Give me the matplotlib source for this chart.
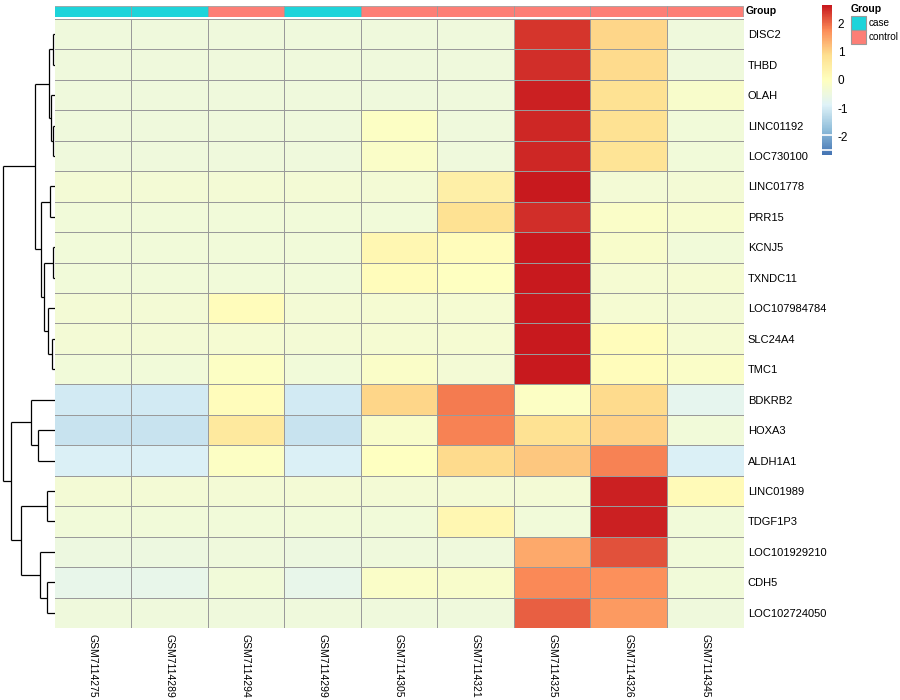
import numpy as np
import matplotlib
matplotlib.use("Agg")
import matplotlib.pyplot as plt
from matplotlib.colors import LinearSegmentedColormap, Normalize
from matplotlib.patches import Rectangle

plt.rcParams['font.family'] = ['Liberation Sans', 'DejaVu Sans']

genes = ["DISC2", "THBD", "OLAH", "LINC01192", "LOC730100", "LINC01778", "PRR15",
         "KCNJ5", "TXNDC11", "LOC107984784", "SLC24A4", "TMC1", "BDKRB2", "HOXA3",
         "ALDH1A1", "LINC01989", "TDGF1P3", "LOC101929210", "CDH5", "LOC102724050"]
samples = ["GSM7114275", "GSM7114289", "GSM7114294", "GSM7114299", "GSM7114305",
           "GSM7114321", "GSM7114325", "GSM7114326", "GSM7114345"]
groups = ["case", "case", "control", "case", "control", "control", "control", "control", "control"]
group_colors = {"case": "#1ED4DA", "control": "#FD7E76"}

values = [
    [-0.45, -0.45, -0.45, -0.45, -0.45, -0.45, 2.45, 1.00, -0.45],   # DISC2
    [-0.45, -0.45, -0.45, -0.45, -0.45, -0.45, 2.50, 0.95, -0.45],   # THBD
    [-0.45, -0.45, -0.45, -0.45, -0.45, -0.45, 2.60, 0.85, -0.20],   # OLAH
    [-0.45, -0.45, -0.45, -0.45, -0.10, -0.45, 2.55, 0.80, -0.40],   # LINC01192
    [-0.45, -0.45, -0.45, -0.45, -0.12, -0.45, 2.55, 0.75, -0.40],   # LOC730100
    [-0.35, -0.35, -0.35, -0.35, -0.35, 0.45, 2.67, -0.35, -0.35],   # LINC01778
    [-0.40, -0.40, -0.40, -0.40, -0.40, 0.80, 2.50, -0.12, -0.25],   # PRR15
    [-0.40, -0.40, -0.40, -0.40, 0.25, 0.10, 2.67, -0.20, -0.40],    # KCNJ5
    [-0.38, -0.38, -0.38, -0.38, 0.10, -0.05, 2.67, -0.30, -0.30],   # TXNDC11
    [-0.35, -0.35, 0.10, -0.35, -0.30, -0.30, 2.67, -0.30, -0.35],   # LOC107984784
    [-0.35, -0.35, -0.32, -0.35, -0.30, -0.32, 2.67, 0.10, -0.32],   # SLC24A4
    [-0.38, -0.38, -0.10, -0.38, -0.15, -0.35, 2.67, 0.10, -0.15],   # TMC1
    [-1.05, -1.05, 0.10, -1.05, 1.00, 1.90, -0.10, 0.95, -0.70],     # BDKRB2
    [-1.15, -1.15, 0.60, -1.15, -0.20, 1.85, 0.80, 1.05, -0.40],     # HOXA3
    [-0.95, -0.95, -0.10, -0.95, -0.05, 0.95, 1.15, 1.85, -0.95],    # ALDH1A1
    [-0.35, -0.35, -0.35, -0.35, -0.35, -0.35, -0.35, 2.60, 0.15],   # LINC01989
    [-0.38, -0.38, -0.38, -0.38, -0.38, 0.25, -0.38, 2.60, -0.38],   # TDGF1P3
    [-0.50, -0.50, -0.45, -0.50, -0.45, -0.45, 1.45, 2.20, -0.40],   # LOC101929210
    [-0.65, -0.65, -0.40, -0.65, -0.15, -0.20, 1.80, 1.75, -0.40],   # CDH5
    [-0.48, -0.48, -0.45, -0.48, -0.45, -0.45, 2.10, 1.60, -0.45],   # LOC102724050
]

# row dendrogram: (left, right, merge height); leaves are row indices
row_tree = (
    (((0, 1, 1.3), (2, (3, 4, 1.3), 3.3), 5.7),
     ((5, 6, 4.0), ((7, 8, 1.3), (9, (10, 11, 2.3), 6.3), 10.0), 13.3),
     19.0),
    ((12, (13, 14, 16.7), 23.3),
     ((15, 16, 7.3), (17, (18, 19, 7.3), 14.0), 33.3),
     43.0),
    51.3)

palette = ["#4575B4", "#91BFDB", "#E0F3F8", "#FFFFBF", "#FEE090", "#FC8D59", "#C8191E"]
cmap = LinearSegmentedColormap.from_list("pal", palette, N=100)
data = np.array(values)
vmax = 8 / 3
norm = Normalize(-vmax, vmax)

W, H = 900, 700
fig = plt.figure(figsize=(9, 7), dpi=100)

def fax(x0, y0, x1, y1):
    return fig.add_axes([x0 / W, 1 - y1 / H, (x1 - x0) / W, (y1 - y0) / H])

hm_x0, hm_x1, hm_y0, hm_y1 = 54.5, 743.5, 19, 628
nr, nc = data.shape

# heatmap
ax = fax(hm_x0, hm_y0, hm_x1, hm_y1)
ax.pcolormesh(np.arange(nc + 1) - 0.5, np.arange(nr + 1) - 0.5, data, cmap=cmap, norm=norm,
              edgecolors="#9A9A9A", linewidth=0.55)
ax.set_xlim(-0.5, nc - 0.5)
ax.set_ylim(nr - 0.5, -0.5)
for s in ax.spines.values():
    s.set_visible(False)
ax.yaxis.tick_right()
ax.set_yticks(range(nr))
ax.set_yticklabels(genes, fontsize=8)
ax.set_xticks(range(nc))
ax.set_xticklabels(samples, fontsize=7.5, rotation=270, va="top", ha="center")
ax.tick_params(length=0, pad=3)
ax.tick_params(axis="x", pad=4)

# annotation bar
aax = fax(hm_x0, 6, hm_x1, 16.5)
for j, g in enumerate(groups):
    aax.add_patch(Rectangle((j - 0.5, 0), 1, 1, facecolor=group_colors[g],
                            edgecolor="#9A9A9A", linewidth=0.55))
aax.set_xlim(-0.5, nc - 0.5)
aax.set_ylim(0, 1)
aax.axis("off")
fig.text(746 / W, 1 - 11.5 / H, "Group", fontsize=7.5, fontweight="bold", va="center", ha="left")

# dendrogram
dax = fax(0, hm_y0, 54.5, hm_y1)

def draw(node):
    if isinstance(node, int):
        return node, 0.0
    l, r, h = node
    yl, hl = draw(l)
    yr, hr = draw(r)
    dax.plot([hl, h], [yl, yl], color="black", lw=0.9, solid_capstyle="butt")
    dax.plot([hr, h], [yr, yr], color="black", lw=0.9, solid_capstyle="butt")
    dax.plot([h, h], [yl, yr], color="black", lw=0.9, solid_capstyle="butt")
    return (yl + yr) / 2, h

draw(row_tree)
dax.set_xlim(54, 0)
dax.set_ylim(nr - 0.5, -0.5)
dax.axis("off")

# colour legend
cax = fax(822, 5, 832, 155)
grad = np.linspace(-vmax, vmax, 200).reshape(-1, 1)
cax.imshow(grad, aspect="auto", cmap=cmap, norm=norm, origin="lower",
           extent=[0, 1, -vmax, vmax])
for v in (-1.95, -2.5):
    cax.axhline(v, color="white", lw=1.2)
cax.set_xlim(0, 1)
cax.set_ylim(-vmax, vmax)
cax.set_xticks([])
cax.yaxis.tick_right()
cax.set_yticks([-2, -1, 0, 1, 2])
cax.set_yticklabels(["-2", "-1", "0", "1", "2"], fontsize=8.5)
cax.tick_params(length=0, pad=4)
for s in cax.spines.values():
    s.set_visible(False)

# group legend
fig.text(851 / W, 1 - 9.5 / H, "Group", fontsize=7.5, fontweight="bold", va="center", ha="left")
for k, g in enumerate(["case", "control"]):
    y0 = 16 + k * 14
    fig.patches.append(Rectangle((851 / W, 1 - (y0 + 14) / H), 15 / W, 14 / H,
                                 transform=fig.transFigure, facecolor=group_colors[g],
                                 edgecolor="#9A9A9A", linewidth=0.8))
    fig.text(868.5 / W, 1 - (y0 + 7) / H, g, fontsize=7.2, va="center", ha="left")

fig.savefig("out.png", dpi=100, facecolor="white")
